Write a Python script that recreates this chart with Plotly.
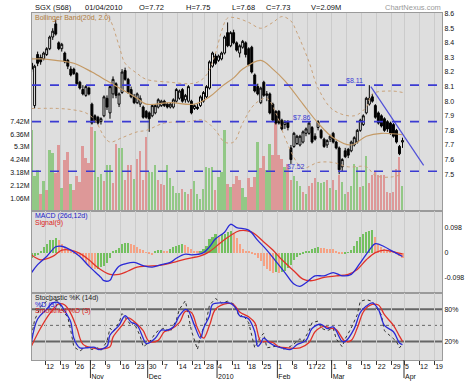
import pandas as pd
import plotly.graph_objects as go

# ---------------- calendar (SGX trading days) ----------------
holidays = ["2009-11-27", "2009-12-25", "2010-01-01", "2010-02-15", "2010-02-16", "2010-04-02"]
all_days = [d for d in pd.bdate_range("2009-10-05", "2010-04-23")
            if d.strftime("%Y-%m-%d") not in holidays]
month_marks = {"2009-11-02": "Nov", "2009-11-30": "Dec", "2010-01-04": "2010",
               "2010-02-01": "Feb", "2010-03-01": "Mar", "2010-04-05": "Apr"}

# ---------------- daily OHLC (S$) ----------------
opens = [8.26, 7.97, 8.32, 8.30, 8.29, 8.32, 8.36, 8.44, 8.53, 8.40,
         8.36, 8.33, 8.28, 8.22, 8.22, 8.19, 8.13, 8.08, 8.04, 8.09,
         7.98, 7.90, 7.89, 7.86, 7.90, 8.02, 7.92, 8.05, 8.12, 7.98,
         8.06, 8.21, 8.15, 8.08, 8.03, 7.99, 7.98, 7.96, 7.93, 7.92,
         7.90, 7.92, 7.96, 7.97, 8.00, 7.98, 7.96, 7.96, 8.00, 8.02,
         8.08, 8.01, 8.00, 8.00, 7.95, 7.96, 7.97, 8.00, 8.03, 8.09,
         8.24, 8.31, 8.28, 8.29, 8.33, 8.47, 8.38, 8.47, 8.40, 8.33,
         8.37, 8.40, 8.36, 8.37, 8.18, 8.10, 7.99, 8.13, 8.04, 8.05,
         7.98, 7.93, 7.93, 7.87, 7.84, 7.86, 7.68, 7.69, 7.71, 7.70,
         7.72, 7.78, 7.78, 7.82, 7.76, 7.82, 7.80, 7.74, 7.70, 7.74,
         7.78, 7.72, 7.68, 7.55, 7.66, 7.67, 7.66, 7.70, 7.72, 7.80,
         7.84, 7.92, 7.98, 8.03, 7.97, 7.92, 7.90, 7.88, 7.86, 7.85,
         7.84, 7.80, 7.69, 7.72]
highs = [8.30, 8.25, 8.34, 8.32, 8.34, 8.37, 8.45, 8.50, 8.56, 8.41,
         8.40, 8.34, 8.29, 8.24, 8.23, 8.20, 8.14, 8.11, 8.11, 8.10,
         7.99, 7.91, 7.90, 7.89, 8.04, 8.04, 8.11, 8.17, 8.13, 8.06,
         8.22, 8.23, 8.16, 8.10, 8.05, 8.06, 8.04, 7.97, 7.94, 7.93,
         7.98, 7.98, 8.02, 8.01, 8.01, 7.99, 7.99, 8.02, 8.09, 8.08,
         8.09, 8.05, 8.11, 8.01, 7.98, 7.98, 8.04, 8.07, 8.11, 8.28,
         8.34, 8.33, 8.32, 8.34, 8.45, 8.54, 8.48, 8.49, 8.41, 8.39,
         8.42, 8.41, 8.37, 8.38, 8.19, 8.12, 8.10, 8.14, 8.07, 8.06,
         7.99, 7.94, 7.94, 7.88, 7.87, 7.87, 7.70, 7.79, 7.77, 7.77,
         7.80, 7.82, 7.86, 7.83, 7.78, 7.87, 7.81, 7.75, 7.74, 7.77,
         7.79, 7.73, 7.69, 7.61, 7.68, 7.68, 7.73, 7.76, 7.81, 7.88,
         7.91, 8.03, 8.11, 8.05, 7.98, 7.93, 7.91, 7.89, 7.87, 7.86,
         7.85, 7.81, 7.70, 7.75]
lows = [8.20, 7.95, 8.24, 8.25, 8.28, 8.31, 8.35, 8.42, 8.45, 8.35,
        8.34, 8.26, 8.22, 8.17, 8.18, 8.11, 8.08, 8.04, 8.03, 8.04,
        7.84, 7.85, 7.84, 7.84, 7.89, 7.94, 7.88, 8.02, 8.02, 7.96,
        8.05, 8.14, 8.05, 8.02, 7.98, 7.98, 7.96, 7.88, 7.88, 7.79,
        7.89, 7.91, 7.95, 7.96, 7.96, 7.95, 7.95, 7.95, 7.99, 8.01,
        7.99, 7.99, 7.99, 7.91, 7.94, 7.94, 7.96, 7.99, 8.02, 8.08,
        8.23, 8.25, 8.27, 8.28, 8.32, 8.37, 8.37, 8.39, 8.34, 8.30,
        8.36, 8.30, 8.24, 8.19, 8.06, 8.04, 7.98, 8.03, 8.00, 7.91,
        7.86, 7.84, 7.84, 7.80, 7.81, 7.80, 7.57, 7.68, 7.70, 7.69,
        7.71, 7.76, 7.77, 7.71, 7.73, 7.80, 7.74, 7.68, 7.68, 7.72,
        7.71, 7.67, 7.50, 7.52, 7.61, 7.61, 7.65, 7.69, 7.71, 7.79,
        7.83, 7.91, 7.97, 7.99, 7.88, 7.84, 7.82, 7.79, 7.79, 7.77,
        7.75, 7.71, 7.63, 7.68]
closes = [8.22, 8.24, 8.26, 8.27, 8.33, 8.36, 8.44, 8.48, 8.46, 8.36,
          8.39, 8.27, 8.24, 8.18, 8.19, 8.12, 8.09, 8.05, 8.10, 8.05,
          7.85, 7.86, 7.85, 7.88, 8.03, 7.96, 8.10, 8.15, 8.04, 8.05,
          8.20, 8.15, 8.06, 8.03, 7.99, 8.05, 8.02, 7.89, 7.89, 7.88,
          7.97, 7.97, 8.01, 8.00, 7.97, 7.96, 7.98, 8.01, 8.08, 8.07,
          8.00, 8.04, 8.10, 7.92, 7.97, 7.95, 8.03, 8.06, 8.10, 8.27,
          8.33, 8.26, 8.31, 8.33, 8.44, 8.38, 8.47, 8.40, 8.35, 8.38,
          8.41, 8.32, 8.25, 8.20, 8.07, 8.05, 8.09, 8.04, 8.05, 7.92,
          7.87, 7.85, 7.85, 7.81, 7.86, 7.82, 7.60, 7.78, 7.76, 7.76,
          7.79, 7.81, 7.85, 7.72, 7.74, 7.86, 7.75, 7.69, 7.73, 7.76,
          7.72, 7.68, 7.53, 7.60, 7.62, 7.63, 7.72, 7.75, 7.80, 7.87,
          7.90, 8.02, 8.02, 8.00, 7.89, 7.85, 7.83, 7.80, 7.81, 7.78,
          7.76, 7.72, 7.64, 7.73]

# ---------------- volume (millions) and up/down day flag ----------------
volume = [6.71, 2.87, 3.40, 1.43, 2.47, 1.75, 5.08, 4.78, 3.13, 5.47,
          1.93, 4.25, 4.91, 2.21, 1.73, 2.93, 2.39, 5.39, 4.38, 3.99,
          6.99, 6.59, 2.81, 3.09, 2.47, 3.80, 3.85, 2.34, 5.58, 5.21,
          5.21, 2.55, 3.85, 3.85, 2.65, 4.28, 4.99, 2.60, 6.14, 3.27,
          3.27, 3.85, 2.60, 2.21, 2.15, 3.80, 2.74, 2.07, 1.53, 1.48,
          1.81, 1.59, 1.43, 1.81, 2.47, 1.43, 1.01, 1.86, 3.66, 3.59,
          3.66, 1.70, 2.78, 3.27, 6.71, 2.25, 1.99, 2.25, 2.87, 2.60,
          1.94, 1.14, 2.73, 2.00, 2.80, 5.74, 3.60, 4.52, 3.40, 5.58,
          4.60, 7.40, 4.60, 4.30, 3.67, 3.93, 2.60, 2.90, 2.50, 2.10,
          1.60, 1.40, 2.10, 2.30, 2.70, 2.40, 2.30, 2.40, 2.60, 1.90,
          2.60, 1.70, 3.00, 2.40, 1.40, 1.60, 2.10, 3.90, 3.67, 2.00,
          2.10, 4.52, 2.34, 3.00, 3.20, 3.00, 3.00, 3.00, 1.60, 1.50,
          1.60, 3.50, 4.50, 2.09]
vol_up = [1, 1, 1, 0, 1, 0, 1, 1, 0, 0,
          1, 0, 0, 1, 0, 0, 0, 0, 0, 0,
          0, 1, 1, 1, 0, 1, 1, 0, 0, 1,
          1, 0, 0, 0, 1, 0, 0, 0, 0, 1,
          1, 1, 0, 0, 0, 1, 1, 1, 1, 1,
          0, 1, 0, 0, 1, 1, 1, 1, 1, 1,
          1, 0, 1, 1, 1, 0, 1, 0, 0, 0,
          1, 1, 0, 0, 0, 1, 0, 0, 1, 1,
          0, 0, 0, 0, 1, 0, 0, 1, 1, 1,
          0, 1, 0, 0, 0, 1, 1, 1, 0, 1,
          0, 1, 0, 1, 1, 0, 1, 1, 1, 0,
          1, 1, 0, 0, 0, 0, 0, 0, 0, 0,
          0, 0, 0, 1]

# ---------------- Bollinger band (20d, 2.0), read at selected days ----------------
bb_mid_day = [0, 3, 8, 14, 20, 25, 30, 35, 38, 46, 54, 59, 63, 67, 70, 76, 80, 84, 90, 95, 100, 106, 111, 116, 123]
bb_mid = [8.29, 8.29, 8.28, 8.26, 8.20, 8.14, 8.08, 8.02, 7.98, 7.99, 7.98, 8.03, 8.10, 8.16, 8.22, 8.28, 8.22, 8.14, 7.98, 7.85, 7.75, 7.70, 7.76, 7.78, 7.77]
bb_up_day = [23, 26, 29, 31, 35, 38, 46, 52, 55, 58, 61, 63, 65, 68, 72, 76, 80, 83, 86, 88, 92, 95, 100, 107, 111, 113, 119, 123]
bb_up = [8.64, 8.56, 8.38, 8.26, 8.19, 8.15, 8.13, 8.12, 8.13, 8.18, 8.33, 8.48, 8.57, 8.57, 8.54, 8.50, 8.54, 8.58, 8.55, 8.47, 8.27, 8.09, 7.94, 7.90, 7.96, 8.05, 8.07, 8.06]
bb_lo_day = [0, 9, 14, 18, 21, 24, 26, 30, 35, 38, 44, 52, 57, 61, 64, 67, 70, 74, 78, 81, 84, 88, 90, 95, 100, 105, 111, 114, 119, 123]
bb_lo = [7.95, 7.95, 7.94, 7.92, 7.87, 7.76, 7.72, 7.75, 7.79, 7.80, 7.85, 7.86, 7.87, 7.80, 7.72, 7.72, 7.85, 7.98, 8.02, 7.92, 7.75, 7.58, 7.54, 7.58, 7.58, 7.55, 7.55, 7.49, 7.48, 7.50]

# support / resistance levels and trend line
levels = [8.11, 7.86, 7.52]
level_label_day = [104, 86.5, 84.5]
trend_day = [112.5, 130]
trend_price = [8.10, 7.56]

# ---------------- MACD (26d,12d), Signal(9), histogram ----------------
macd_day = [0, 2, 5, 8, 10, 13, 16, 19, 23, 24, 26, 27, 29, 31, 34, 37, 40, 43, 46, 48, 51, 53, 57, 59, 61, 64, 66, 68,
            72, 75, 78, 81, 84, 87, 89, 91, 94, 97, 100, 103, 106, 109, 112, 114, 117, 119, 121, 123]
macd = [-0.078, -0.047, -0.015, 0.023, 0.025, 0.010, -0.015, -0.053, -0.097, -0.110, -0.108, -0.085, -0.053, -0.044,
        -0.038, -0.051, -0.057, -0.047, -0.038, -0.022, -0.006, -0.009, 0.000, 0.023, 0.054, 0.080, 0.111, 0.098,
        0.088, 0.048, 0.010, -0.034, -0.078, -0.123, -0.132, -0.118, -0.091, -0.091, -0.078, -0.091, -0.085, -0.040,
        0.010, 0.035, 0.023, 0.010, -0.003, -0.015]
signal_day = [0, 3, 7, 10, 13, 16, 19, 22, 26, 29, 32, 35, 38, 43, 47, 51, 56, 59, 63, 66, 69, 73, 77, 80, 83, 87,
              90, 93, 97, 101, 105, 108, 111, 114, 117, 121, 123]
signal = [-0.009, -0.028, -0.015, 0.010, 0.010, -0.003, -0.028, -0.059, -0.085, -0.085, -0.072, -0.057, -0.053,
          -0.049, -0.038, -0.025, -0.013, 0.004, 0.042, 0.067, 0.086, 0.080, 0.042, 0.010, -0.028, -0.072, -0.104,
          -0.110, -0.097, -0.091, -0.085, -0.066, -0.028, 0.000, 0.010, 0.000, -0.005]
hist = [-0.021, -0.015, -0.009, 0.008, 0.023, 0.035, 0.048, 0.051, 0.058, 0.048,
        0.035, 0.023, 0.016, 0.008, -0.002, -0.009, -0.015, -0.028, -0.040, -0.053,
        -0.061, -0.066, -0.063, -0.057, -0.051, -0.040, -0.021, 0.004, 0.010, 0.020,
        0.033, 0.038, 0.039, 0.035, 0.029, 0.023, 0.016, 0.010, -0.001, -0.006,
        -0.009, 0.004, 0.010, 0.010, 0.008, 0.006, 0.016, 0.023, 0.027, 0.029,
        0.032, 0.031, 0.023, 0.013, 0.008, 0.004, 0.006, 0.013, 0.025, 0.054,
        0.063, 0.071, 0.061, 0.071, 0.073, 0.080, 0.086, 0.073, 0.058, 0.035,
        0.013, 0.006, 0.003, -0.005, -0.010, -0.021, -0.034, -0.053, -0.066, -0.072,
        -0.078, -0.076, -0.079, -0.076, -0.073, -0.059, -0.047, -0.030, -0.018, -0.010,
        -0.004, 0.004, 0.008, 0.013, 0.019, 0.024, 0.020, 0.018, 0.015, 0.014,
        0.013, 0.008, -0.002, -0.005, -0.005, -0.001, 0.010, 0.025, 0.046, 0.061,
        0.071, 0.080, 0.086, 0.088, 0.063, 0.033, 0.023, 0.013, 0.008, 0.004,
        -0.001, -0.006, -0.015, -0.021]

# ---------------- Stochastic %K (14d), %D(3), smoothed %D(3) ----------------
k_day = [0, 1, 3, 5, 7, 9, 10, 12, 13, 14, 16, 18, 20, 22, 23, 25, 26, 27, 29, 30, 31, 33, 34, 36, 37, 39, 41, 42,
         44, 46, 48, 49, 51, 52, 53, 55, 56, 58, 59, 61, 63, 65, 67, 69, 70, 72, 73, 74, 76, 77, 78, 80, 82, 83, 85,
         87, 89, 90, 92, 93, 95, 96, 98, 100, 101, 103, 104, 106, 108, 109, 111, 113, 114, 116, 117, 119, 121, 122, 123]
stoch_k = [30, 60, 85, 95, 98, 95, 80, 65, 40, 10, 2, 10, 5, 8, 3, 20, 45, 38, 55, 72, 65, 50, 55, 30, 10, 18, 35,
           40, 45, 38, 60, 80, 96, 70, 40, 5, 30, 60, 88, 100, 92, 95, 90, 65, 70, 55, 30, 8, 30, 35, 8, 10, 12, 5,
           8, 15, 25, 20, 40, 55, 58, 45, 40, 45, 25, 10, 25, 45, 70, 95, 98, 95, 85, 70, 40, 30, 20, 8, 15]
d_day = [0, 2, 5, 7, 9, 11, 13, 14, 16, 18, 21, 22, 25, 26, 29, 31, 33, 35, 37, 38, 41, 43, 45, 47, 49, 51, 52, 54,
         56, 57, 59, 60, 63, 66, 68, 69, 71, 72, 74, 75, 76, 77, 79, 81, 83, 86, 88, 91, 93, 96, 98, 100, 103, 104,
         107, 109, 111, 113, 115, 117, 120, 122, 123]
stoch_d = [20, 62, 80, 92, 92, 77, 56, 26, 8, 8, 9, 5, 11, 32, 50, 68, 56, 50, 26, 16, 26, 41, 41, 47, 68, 80, 77,
           50, 26, 44, 68, 89, 92, 91, 80, 68, 65, 62, 38, 11, 17, 26, 17, 11, 8, 5, 14, 22, 44, 52, 44, 47, 20, 20,
           44, 74, 86, 92, 80, 50, 38, 17, 14]
sd_day = [0, 3, 6, 9, 11, 13, 15, 17, 20, 23, 26, 27, 30, 32, 35, 37, 39, 42, 44, 46, 49, 51, 53, 55, 57, 59, 61,
          65, 67, 69, 72, 74, 76, 78, 80, 82, 85, 89, 92, 94, 97, 99, 101, 104, 106, 108, 110, 112, 115, 117, 120,
          122, 123]
stoch_sd = [12, 45, 72, 90, 88, 72, 45, 15, 8, 6, 10, 28, 50, 64, 52, 40, 20, 22, 38, 42, 55, 76, 74, 45, 26, 50,
            80, 91, 89, 75, 66, 55, 20, 20, 18, 10, 8, 8, 18, 38, 48, 45, 42, 20, 22, 45, 75, 87, 88, 70, 50, 30, 20]

# ---------------- figure ----------------
N = len(closes)
idx = list(range(N))
XR = [0.13, 136.1]
PRICE_R = [7.2475, 8.6046]
VOL_R = [0, 16.4]
MACD_R = [-0.157, 0.163]
STO_R = [-14.7, 111]
D_PRICE = [0.4294, 1.0]
D_MACD = [0.1939, 0.4294]
D_STO = [0.0, 0.1939]

BG = "#dedede"
GRID = "#cbcbcb"
BORDER = "#9a9a9a"
TAN = "#c49a66"
BLUE = "#2a2ad6"
RED = "#e0322a"
LVL = "#3b3bd2"

tick_pos, tick_txt, month_pos = [], [], []
prev_week = None
for i, d in enumerate(all_days):
    wk = d.isocalendar()[1]
    if wk != prev_week:
        key = d.strftime("%Y-%m-%d")
        lbl = str(d.day)
        if key in month_marks:
            lbl += "<br>" + month_marks[key]
            month_pos.append(i - 0.5)
        tick_pos.append(i - 0.5)
        tick_txt.append(lbl)
    prev_week = wk

fig = go.Figure()

# volume bars (left scale, bottom of price panel)
fig.add_trace(go.Bar(x=idx, y=volume, xaxis="x", yaxis="y", width=0.62,
                     marker=dict(color=["rgb(146,200,134)" if u else "rgb(221,152,152)" for u in vol_up],
                                 line=dict(width=0)),
                     hoverinfo="skip"))

# Bollinger bands
fig.add_trace(go.Scatter(x=bb_up_day, y=bb_up, xaxis="x", yaxis="y2", mode="lines",
                         line=dict(color="#c9a27a", width=1, dash="dot", shape="spline")))
fig.add_trace(go.Scatter(x=bb_lo_day, y=bb_lo, xaxis="x", yaxis="y2", mode="lines",
                         line=dict(color="#c9a27a", width=1, dash="dot", shape="spline")))
fig.add_trace(go.Scatter(x=bb_mid_day, y=bb_mid, xaxis="x", yaxis="y2", mode="lines",
                         line=dict(color=TAN, width=1.2, shape="spline")))

# candles
fig.add_trace(go.Candlestick(x=idx, open=opens, high=highs, low=lows, close=closes,
                             xaxis="x", yaxis="y2", whiskerwidth=0,
                             increasing=dict(line=dict(color="black", width=1), fillcolor="white"),
                             decreasing=dict(line=dict(color="black", width=1), fillcolor="black")))

# trend line
fig.add_trace(go.Scatter(x=trend_day, y=trend_price, xaxis="x", yaxis="y2", mode="lines",
                         line=dict(color="#5050d8", width=1.2)))

# MACD
hist_col = ["rgb(115,192,95)" if (i == 0 or hist[i] >= hist[i - 1]) else "rgb(246,162,132)" for i in range(N)]
fig.add_trace(go.Bar(x=idx, y=hist, xaxis="x2", yaxis="y3", width=0.7,
                     marker=dict(color=hist_col, line=dict(width=0))))
fig.add_trace(go.Scatter(x=signal_day, y=signal, xaxis="x2", yaxis="y3", mode="lines",
                         line=dict(color=RED, width=1.3, shape="spline")))
fig.add_trace(go.Scatter(x=macd_day, y=macd, xaxis="x2", yaxis="y3", mode="lines",
                         line=dict(color=BLUE, width=1.3, shape="spline")))

# Stochastic
fig.add_trace(go.Scatter(x=k_day, y=stoch_k, xaxis="x3", yaxis="y4", mode="lines",
                         line=dict(color="#333333", width=1, dash="dot")))
fig.add_trace(go.Scatter(x=sd_day, y=stoch_sd, xaxis="x3", yaxis="y4", mode="lines",
                         line=dict(color=RED, width=1.3, shape="spline")))
fig.add_trace(go.Scatter(x=d_day, y=stoch_d, xaxis="x3", yaxis="y4", mode="lines",
                         line=dict(color=BLUE, width=1.3, shape="spline")))

shapes = []
for lv in levels:
    shapes.append(dict(type="line", xref="paper", yref="y2", x0=0, x1=1, y0=lv, y1=lv,
                       line=dict(color=LVL, width=1.6, dash="dash")))
for lv, w, ds in [(80, 2, "solid"), (20, 2, "solid"), (50, 1, "dot")]:
    shapes.append(dict(type="line", xref="paper", yref="y4", x0=0, x1=1, y0=lv, y1=lv, layer="between",
                       line=dict(color="#666666", width=w, dash=ds)))
for mp in month_pos:
    shapes.append(dict(type="line", xref="x3", yref="paper", x0=mp, x1=mp, y0=0, y1=-0.052,
                       line=dict(color="#333333", width=1)))

FONT = "Liberation Sans, Arial, sans-serif"


def px_x(p):
    return (p - 23) / 426.0


def px_y(p):
    return (371 - p) / 361.0


ann = []
header = [("SGX (S68)", 25), ("01/04/2010", 77), (f"O={opens[-1]:.2f}", 133), (f"H={highs[-1]:.2f}", 182),
          (f"L={lows[-1]:.2f}", 230), (f"C={closes[-1]:.2f}", 265), (f"V={volume[-1]:.2f}M", 312)]
for txt, xp in header:
    ann.append(dict(text=txt, xref="paper", yref="paper", x=px_x(xp), y=1, xanchor="left", yanchor="bottom",
                    showarrow=False, font=dict(size=7.5, color="#111111", family=FONT), borderpad=0))
ann.append(dict(text="ChartNexus.com", xref="paper", yref="paper", x=1, y=1, xanchor="right", yanchor="bottom",
                showarrow=False, font=dict(size=7.5, color="#9a9a9a", family=FONT), borderpad=0))
legend_txt = [("Bollinger Band(20d, 2.0)", 15, "#b07a3c"), ("MACD (26d,12d)", 221, "#2020c8"),
              ("Signal(9)", 228, "#dd2020"), ("Stochastic %K (14d)", 306.7, "#222222"),
              ("%D (3)", 313.3, "#2020d8"), ("Smoothed %D (3)", 320, "#dd2020")]
for txt, yp, col in legend_txt:
    ann.append(dict(text=txt, xref="paper", yref="paper", x=px_x(25), y=px_y(yp), xanchor="left",
                    yanchor="middle", showarrow=False, font=dict(size=7, color=col, family=FONT), borderpad=0))
for lv, dday in zip(levels, level_label_day):
    ann.append(dict(text=f"${lv:.2f}", xref="x", yref="y2", x=dday, y=lv, xanchor="left", yanchor="bottom",
                    showarrow=False, font=dict(size=7, color=LVL, family=FONT), borderpad=0))

xcommon = dict(range=XR, tickvals=tick_pos, showgrid=True, gridcolor=GRID, gridwidth=1, zeroline=False,
               showline=True, mirror=True, linecolor=BORDER, linewidth=1)
ycommon = dict(zeroline=False, showgrid=False, showline=True, mirror=True, linecolor=BORDER, linewidth=1,
               ticks="", ticklen=0, tickfont=dict(size=7, color="#111111", family=FONT))

fig.update_layout(
    width=474, height=390,
    margin=dict(l=23, r=25, t=10, b=19),
    paper_bgcolor="white", plot_bgcolor=BG,
    showlegend=False, bargap=0, boxgap=0.2, boxgroupgap=0.2, hovermode=False,
    font=dict(family=FONT, size=7, color="#111111"),
    xaxis=dict(domain=[0, 1], anchor="y", showticklabels=False, ticks="",
               rangeslider=dict(visible=False), **xcommon),
    xaxis2=dict(domain=[0, 1], anchor="y3", matches="x", showticklabels=False, ticks="", **xcommon),
    xaxis3=dict(domain=[0, 1], anchor="y4", matches="x", ticktext=tick_txt, showticklabels=True,
                ticks="outside", ticklen=4, tickcolor="#333333", ticklabelposition="outside right",
                tickangle=0, tickfont=dict(size=7, color="#111111", family=FONT), **xcommon),
    yaxis=dict(domain=D_PRICE, anchor="x", range=VOL_R, side="left",
               tickvals=[1.06 * k for k in range(1, 8)],
               ticktext=["1.06M", "2.12M", "3.18M", "4.24M", "5.3M", "6.36M", "7.42M"], **ycommon),
    yaxis2=dict(overlaying="y", anchor="x", side="right", range=PRICE_R,
                tickvals=[round(7.5 + 0.1 * k, 1) for k in range(12)], tickformat=".1f",
                **{k: v for k, v in ycommon.items() if k not in ("showline", "mirror")}),
    yaxis3=dict(domain=D_MACD, anchor="x2", side="right", range=MACD_R,
                tickvals=[-0.098, 0, 0.098], ticktext=["-0.098", "0", "0.098"], **ycommon),
    yaxis4=dict(domain=D_STO, anchor="x3", side="right", range=STO_R,
                tickvals=[20, 80], ticktext=["20%", "80%"], **ycommon),
    shapes=shapes,
    annotations=ann,
)

# remove the page's default body margin so the 474x390 figure fills the window exactly
fig.write_html("out.html",
               config={"displayModeBar": False},
               post_script="document.body.style.margin='0';document.body.style.overflow='hidden';")
